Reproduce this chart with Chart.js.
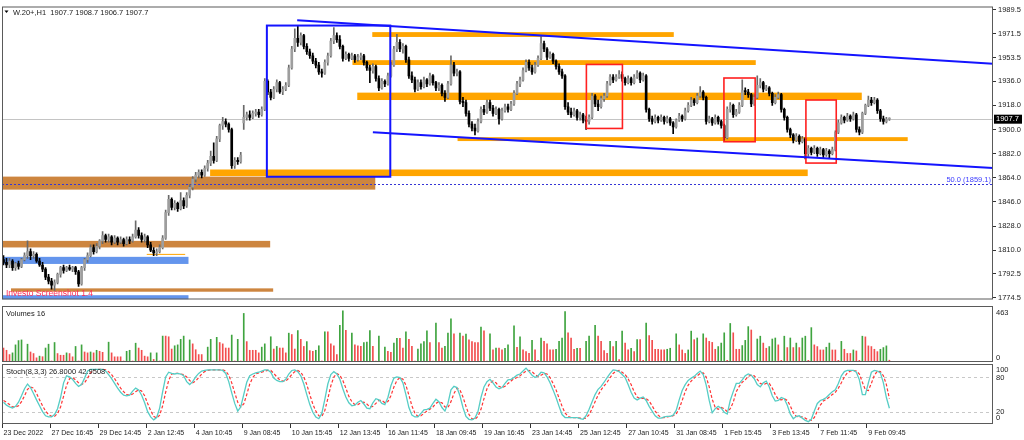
<!DOCTYPE html>
<html><head><meta charset="utf-8">
<script src="https://cdn.jsdelivr.net/npm/chart.js@4.4.1/dist/chart.umd.min.js"></script>
<style>
html,body{margin:0;padding:0;background:#fff;width:1024px;height:440px;overflow:hidden}
canvas{position:absolute;left:0}
#c1{top:0}#c2{top:305px}#c3{top:363px}
</style></head><body>
<canvas id="c1" width="1024" height="306"></canvas>
<canvas id="c2" width="1024" height="59"></canvas>
<canvas id="c3" width="1024" height="77"></canvas>
<script>
// ---------- DATA ----------
const symbolTitle = 'W.20+,H1  1907.7 1908.7 1906.7 1907.7';
const volumeTitle = 'Volumes 16';
const stochTitle = 'Stoch(8,3,3) 26.8000 42.9508';
const watermark = 'Investo Screenshot 1.4';
const fibText = '50.0 (1859.1)';
const tickLabels = ['23 Dec 2022','27 Dec 16:45','29 Dec 14:45','2 Jan 12:45','4 Jan 10:45','9 Jan 08:45','10 Jan 15:45','12 Jan 13:45','16 Jan 11:45','18 Jan 09:45','19 Jan 16:45','23 Jan 14:45','25 Jan 12:45','27 Jan 10:45','31 Jan 08:45','1 Feb 15:45','3 Feb 13:45','7 Feb 11:45','9 Feb 09:45'];
const barsPerLabel = 16;
const totalSlots = 330;
const priceTicks = [1989.5,1971.5,1953.5,1936.0,1918.0,1900.0,1882.0,1864.0,1846.0,1828.0,1810.0,1792.5,1774.5];
const priceMin = 1773.3, priceMax = 1991.7;
const lastPrice = 1907.7;
const fibLevel = 1859.1;
const volumeMax = 497;
const volumeAxisText = ['463','0'];
const stochLevels = [80, 20];
const stochAxisText = ['100','80','20','0'];

const opens = [
1803,1801,1799,1802,1797,1800,1798,1803,1806,1809,
1806,1807,1802,1799,1796,1790,1787,1784,1786,1792,
1797,1795,1797,1796,1797,1794,1785,1797,1803,1806,
1812,1809,1813,1817,1821,1818,1820,1816,1819,1816,
1818,1815,1818,1817,1820,1825,1821,1818,1820,1814,
1810,1808,1809,1812,1819,1838,1848,1842,1845,1841,
1847,1843,1851,1857,1863,1866,1868,1866,1871,1875,
1880,1877,1893,1903,1906,1904,1900,1873,1877,1876,
1905,1909,1911,1909,1912,1913,1911,1915,1936,1928,
1924,1930,1935,1928,1930,1933,1946,1960,1968,1965,
1970,1962,1958,1955,1951,1948,1943,1942,1950,1955,
1966,1970,1967,1962,1953,1956,1953,1955,1952,1954,
1955,1950,1946,1944,1947,1938,1931,1936,1934,1940,
1948,1960,1965,1960,1962,1952,1940,1937,1930,1935,
1932,1937,1934,1940,1935,1931,1933,1927,1924,1934,
1948,1942,1943,1921,1920,1912,1904,1901,1899,1906,
1915,1913,1920,1916,1912,1915,1908,1914,1917,1915,
1919,1927,1934,1937,1944,1950,1946,1943,1948,1953,
1964,1960,1954,1956,1951,1947,1943,1940,1917,1913,
1911,1914,1909,1911,1907,1906,1909,1925,1919,1917,
1923,1925,1934,1939,1937,1939,1941,1938,1935,1938,
1935,1939,1942,1937,1940,1915,1908,1906,1909,1907,
1909,1906,1908,1905,1902,1907,1910,1908,1914,1918,
1922,1920,1925,1928,1924,1906,1908,1905,1909,1906,
1903,1894,1915,1918,1911,1913,1918,1929,1928,1926,
1919,1924,1933,1935,1930,1931,1927,1920,1924,1926,
1915,1909,1900,1896,1892,1895,1891,1893,1882,1886,
1883,1886,1882,1885,1881,1884,1882,1885,1898,1905,
1909,1907,1910,1908,1911,1900,1898,1912,1918,1922,
1920,1922,1914,1908,1906,1907.7];
const highs = [
1806,1804,1804,1803,1801,1802,1804,1808,1817,1811,
1809,1808,1804,1801,1797,1792,1789,1788,1793,1798,
1799,1798,1799,1798,1798,1795,1798,1804,1808,1814,
1814,1815,1818,1824,1822,1822,1821,1821,1820,1820,
1819,1820,1820,1822,1832,1827,1823,1822,1821,1816,
1812,1811,1814,1821,1840,1851,1849,1847,1846,1853,
1849,1853,1859,1865,1868,1870,1870,1873,1877,1884,
1890,1895,1904,1909,1908,1905,1901,1879,1879,1883,
1918,1913,1914,1914,1915,1915,1917,1938,1937,1930,
1932,1937,1936,1932,1935,1948,1962,1975,1977,1972,
1971,1964,1960,1957,1953,1950,1945,1952,1957,1968,
1976,1972,1970,1963,1958,1957,1957,1956,1956,1957,
1956,1951,1948,1949,1948,1940,1938,1937,1942,1950,
1962,1971,1967,1964,1963,1954,1943,1939,1937,1937,
1939,1938,1942,1941,1936,1935,1934,1929,1936,1955,
1950,1945,1944,1924,1922,1914,1906,1904,1908,1917,
1918,1922,1922,1918,1917,1916,1916,1919,1919,1921,
1929,1936,1939,1946,1952,1952,1948,1950,1955,1970,
1966,1961,1958,1957,1952,1949,1945,1941,1920,1916,
1916,1915,1913,1912,1910,1911,1927,1926,1922,1925,
1927,1936,1941,1941,1941,1944,1943,1939,1940,1939,
1941,1944,1943,1942,1941,1916,1910,1911,1910,1911,
1910,1910,1909,1906,1908,1912,1911,1916,1920,1924,
1923,1927,1932,1929,1925,1910,1909,1911,1910,1907,
1904,1917,1920,1919,1915,1920,1937,1931,1930,1927,
1926,1940,1938,1936,1933,1932,1928,1926,1928,1927,
1916,1910,1901,1897,1897,1896,1895,1894,1888,1887,
1888,1887,1887,1886,1886,1885,1887,1899,1907,1911,
1910,1912,1911,1913,1912,1902,1913,1919,1925,1924,
1924,1923,1915,1910,1909,1908.7];
const lows = [
1799,1797,1797,1795,1795,1796,1797,1802,1804,1803,
1804,1801,1798,1794,1788,1785,1781,1780,1785,1790,
1793,1794,1795,1794,1792,1783,1784,1795,1801,1805,
1807,1808,1811,1815,1816,1816,1814,1815,1814,1815,
1813,1814,1815,1816,1819,1819,1816,1816,1812,1809,
1806,1806,1808,1811,1818,1836,1840,1840,1839,1840,
1841,1842,1849,1855,1861,1864,1864,1865,1869,1873,
1875,1876,1891,1900,1902,1898,1871,1871,1874,1875,
1900,1907,1907,1908,1910,1909,1910,1914,1926,1922,
1923,1928,1927,1926,1929,1932,1945,1958,1962,1963,
1960,1956,1953,1949,1946,1941,1939,1941,1948,1954,
1964,1965,1960,1951,1952,1951,1952,1950,1951,1952,
1948,1944,1935,1942,1936,1929,1930,1932,1933,1939,
1947,1958,1958,1957,1950,1938,1935,1928,1929,1930,
1931,1932,1933,1933,1929,1929,1925,1921,1923,1933,
1940,1940,1919,1917,1910,1902,1899,1896,1898,1905,
1911,1912,1914,1910,1911,1904,1907,1913,1913,1914,
1918,1926,1932,1936,1943,1944,1941,1942,1947,1952,
1958,1952,1953,1949,1945,1941,1938,1915,1911,1909,
1910,1907,1907,1905,1900,1904,1908,1917,1914,1916,
1921,1924,1933,1935,1936,1938,1936,1933,1934,1933,
1934,1938,1935,1936,1913,1906,1904,1905,1905,1906,
1904,1905,1903,1897,1901,1906,1906,1907,1913,1917,
1918,1919,1924,1922,1904,1905,1903,1904,1904,1901,
1892,1893,1913,1909,1910,1912,1917,1926,1924,1917,
1918,1923,1931,1928,1929,1925,1918,1919,1923,1913,
1907,1898,1894,1890,1891,1889,1890,1878,1880,1881,
1882,1880,1881,1879,1880,1879,1881,1884,1897,1904,
1905,1906,1906,1907,1898,1896,1897,1911,1917,1918,
1919,1912,1906,1904,1905,1906.7];
const closes = [
1801,1799,1802,1797,1800,1798,1803,1806,1809,1806,
1807,1802,1799,1796,1790,1787,1784,1786,1792,1797,
1795,1797,1796,1797,1794,1785,1797,1803,1806,1812,
1809,1813,1817,1821,1818,1820,1816,1819,1816,1818,
1815,1818,1817,1820,1825,1821,1818,1820,1814,1810,
1808,1809,1812,1819,1838,1848,1842,1845,1841,1847,
1843,1851,1857,1863,1866,1868,1866,1871,1875,1880,
1877,1893,1903,1906,1904,1900,1873,1877,1876,1881,
1909,1911,1909,1912,1913,1911,1915,1936,1928,1924,
1930,1935,1928,1930,1933,1946,1960,1968,1965,1970,
1962,1958,1955,1951,1948,1943,1942,1950,1955,1966,
1970,1967,1962,1953,1956,1953,1955,1952,1954,1955,
1950,1946,1944,1947,1938,1931,1936,1934,1940,1948,
1960,1965,1960,1962,1952,1940,1937,1930,1935,1932,
1937,1934,1940,1935,1931,1933,1927,1924,1934,1948,
1942,1943,1921,1920,1912,1904,1901,1899,1906,1915,
1913,1920,1916,1912,1915,1908,1914,1917,1915,1919,
1927,1934,1937,1944,1950,1946,1943,1948,1953,1964,
1960,1954,1956,1951,1947,1943,1940,1917,1913,1911,
1914,1909,1911,1907,1906,1909,1925,1919,1917,1923,
1925,1934,1939,1937,1939,1941,1938,1935,1938,1935,
1939,1942,1937,1940,1915,1908,1906,1909,1907,1909,
1906,1908,1905,1902,1907,1910,1908,1914,1918,1922,
1920,1925,1928,1924,1906,1908,1905,1909,1906,1903,
1894,1915,1918,1911,1913,1918,1929,1928,1926,1919,
1924,1933,1935,1930,1931,1927,1920,1924,1926,1915,
1909,1900,1896,1892,1895,1891,1893,1882,1886,1883,
1886,1882,1885,1881,1884,1882,1885,1898,1905,1909,
1907,1910,1908,1911,1900,1898,1912,1918,1922,1920,
1922,1914,1908,1906,1907.7,1907.7];
const volumes = [
124,104,66,81,152,190,196,9,158,89,
75,37,52,47,124,158,9,173,75,60,
60,81,75,46,138,9,152,89,81,89,
81,104,95,86,9,176,81,46,46,46,
9,95,104,9,167,124,104,52,46,81,
23,81,9,230,230,224,115,144,152,201,
230,9,196,161,109,66,66,9,132,201,
9,219,173,161,124,124,239,9,201,9,
431,181,104,104,104,81,132,161,9,224,
115,138,124,124,81,256,244,115,279,201,
138,181,101,95,104,144,9,268,268,161,
144,66,325,454,282,9,256,152,144,138,
173,176,279,138,9,230,9,132,95,86,
167,210,210,124,268,201,138,9,115,161,
181,276,173,9,345,173,124,138,256,383,
250,9,256,230,247,196,181,173,173,311,
276,9,250,109,124,124,107,122,152,5,
320,131,223,107,92,76,192,107,15,213,
183,162,107,107,113,183,213,448,259,213,
113,122,122,5,183,229,15,326,229,183,
101,76,183,137,183,21,274,168,107,122,
92,198,198,15,345,235,192,113,113,107,
107,113,122,5,250,152,107,76,107,274,
198,213,5,250,213,183,174,113,137,168,
259,15,342,259,113,113,146,192,314,284,
15,204,229,168,122,137,204,213,152,15,
229,128,213,128,168,128,213,229,15,305,
152,137,107,107,131,168,107,107,15,183,
113,76,76,107,98,15,229,223,143,137,
113,92,113,128,143,16];
const stochMain = [
37,32,29,27,30,37,48,60,68,62,
52,41,31,21,14,12,12,16,26,45,
70,82,80,76,69,64,67,78,90,93,
93,93,93,93,90,84,77,69,61,54,
49,48,49,56,61,58,49,36,21,12,
7,11,27,55,80,88,86,85,86,85,
82,72,67,72,80,86,90,91,92,92,
92,92,92,91,86,72,53,35,22,29,
50,71,82,85,87,88,90,92,92,88,
78,74,72,72,76,85,91,92,89,82,
68,50,33,20,12,9,18,42,68,84,
89,85,76,60,46,36,31,32,37,40,
34,27,26,36,43,41,35,33,45,65,
78,80,79,70,50,28,15,12,12,18,
24,25,27,35,42,38,28,22,35,58,
64,62,48,28,13,8,7,10,21,45,
63,72,76,70,63,60,62,69,75,76,
79,83,85,90,95,89,83,79,82,88,
87,80,70,58,45,30,16,11,11,11,
11,11,9,8,14,25,38,50,59,64,
71,79,86,92,91,89,84,79,67,54,
44,41,44,46,40,30,22,14,10,10,
12,13,13,15,23,41,57,67,74,78,
81,86,90,84,66,40,19,26,30,27,
20,17,40,55,69,69,75,82,85,83,
77,67,63,70,73,63,48,39,40,45,
43,32,17,9,13,14,10,6,4,8,
22,35,40,42,45,50,55,58,69,82,
89,91,91,91,88,75,50,50,70,88,
91,90,87,70,45,26.8];
const stochSignal = [
40,37,33,29,29,31,38,48,59,63,
61,52,41,31,22,16,13,13,18,29,
47,66,77,79,75,70,67,70,78,87,
92,93,93,93,92,89,84,77,69,61,
55,50,49,51,55,58,56,48,35,23,
13,10,15,31,54,74,85,86,86,85,
84,80,74,70,73,79,85,89,91,92,
92,92,92,92,90,83,70,53,37,29,
34,50,68,79,85,87,88,90,91,91,
86,80,75,73,73,78,84,89,91,88,
80,67,50,34,22,14,13,23,43,65,
80,86,83,74,61,47,38,33,33,36,
37,34,29,30,35,40,40,36,38,48,
63,74,79,76,66,49,31,18,13,14,
18,22,25,29,35,38,36,29,28,38,
52,61,58,46,30,16,9,8,13,25,
43,60,70,73,70,64,62,64,69,73,
77,79,82,86,90,91,89,84,81,83,
86,85,79,69,58,44,30,19,13,11,
11,11,10,9,10,16,26,38,49,58,
65,71,79,86,90,91,88,84,77,67,
55,46,43,44,43,39,31,22,15,11,
11,12,13,14,17,26,40,55,66,73,
78,82,86,87,80,63,42,28,25,28,
26,21,26,37,55,64,71,75,81,83,
82,76,69,67,69,69,61,50,42,41,
43,40,31,19,13,12,12,10,7,6,
11,22,32,39,42,46,50,54,61,70,
80,87,90,91,90,85,71,58,57,69,
83,90,89,82,67,42.96];

// chart objects in data coordinates: [startBar, endBar, lowPrice, highPrice]
const brownZones = [[-0.5,123.8,1855.2,1864.9],[-0.5,88.8,1812.1,1817.0],[2.5,89.8,1779.1,1781.6]];
const blueZones = [[-0.5,61.6,1799.8,1805.1],[-0.5,61.6,1773.3,1776.5]];
const orangeZones = [[122.8,223.2,1969.0,1972.6],[116.2,250.5,1948.1,1951.7],[117.8,285.8,1922.0,1927.5],[151.2,301.1,1891.4,1894.3],[68.8,267.8,1865.3,1870.2],[47.7,60.5,1806.6,1807.3]];
const blueBoxes = [[87.7,128.8,1864.8,1977.5]];
const redBoxes = [[194.1,206.1,1900.8,1948.5],[239.9,250.3,1890.9,1938.4],[267.2,277.3,1875.0,1922.0]];
const trendLines = [[[97.8,1981.5],[329.5,1949.0]],[[123.0,1897.9],[329.5,1871.4]]];

// ---------- BUILD ----------
const FONT = "'Liberation Sans', Arial, sans-serif";
const slotLabels = Array.from({length: totalSlots}, (_, i) => (i % barsPerLabel === 0 && tickLabels[i / barsPerLabel]) || '');
const isUp = closes.map((c, i) => c >= opens[i]);
const wickData = highs.map((h, i) => [lows[i], h]);
const bodyData = opens.map((o, i) => [Math.min(o, closes[i]), Math.max(o, closes[i])]);
const volColors = volumes.map((v, i) => (i > 0 && v > volumes[i - 1]) ? '#3fa43f' : '#f24e4e');

const panelFrame = {
  id: 'panelFrame',
  afterDraw(chart) {
    const {ctx, chartArea: a} = chart;
    ctx.save();
    ctx.strokeStyle = '#5a5a5a'; ctx.lineWidth = 1;
    ctx.strokeRect(a.left + 0.5, a.top + 0.5, a.right - a.left - 1, a.bottom - a.top - 1);
    ctx.restore();
  }
};

function clipArea(ctx, a) { ctx.beginPath(); ctx.rect(a.left, a.top, a.right - a.left, a.bottom - a.top); ctx.clip(); }

const mainOverlay = {
  id: 'mainOverlay',
  beforeDatasetsDraw(chart) {
    const {ctx, chartArea: a, scales: {x, y}} = chart;
    ctx.save(); clipArea(ctx, a);
    const fillZone = (z, color) => {
      const x0 = x.getPixelForValue(z[0]), x1 = x.getPixelForValue(z[1]);
      const y0 = y.getPixelForValue(z[3]), y1 = y.getPixelForValue(z[2]);
      ctx.fillStyle = color; ctx.fillRect(x0, y0, x1 - x0, Math.max(1, y1 - y0));
    };
    brownZones.forEach(z => fillZone(z, '#cd853f'));
    blueZones.forEach(z => fillZone(z, '#6495ed'));
    orangeZones.forEach(z => fillZone(z, '#ffa500'));
    const yc = Math.round(y.getPixelForValue(lastPrice)) + 0.5;
    ctx.strokeStyle = '#c4c4c4'; ctx.lineWidth = 1;
    ctx.beginPath(); ctx.moveTo(a.left, yc); ctx.lineTo(a.right, yc); ctx.stroke();
    const yf = Math.round(y.getPixelForValue(fibLevel)) + 0.5;
    ctx.setLineDash([2, 2]); ctx.strokeStyle = '#3434d6';
    ctx.beginPath(); ctx.moveTo(a.left, yf); ctx.lineTo(a.right, yf); ctx.stroke();
    ctx.setLineDash([]);
    ctx.restore();
  },
  afterDatasetsDraw(chart) {
    const {ctx, chartArea: a, scales: {x, y}} = chart;
    ctx.save(); clipArea(ctx, a);
    const box = (b, color, w) => {
      const x0 = x.getPixelForValue(b[0]), x1 = x.getPixelForValue(b[1]);
      const y0 = y.getPixelForValue(b[3]), y1 = y.getPixelForValue(b[2]);
      ctx.strokeStyle = color; ctx.lineWidth = w; ctx.strokeRect(x0, y0, x1 - x0, y1 - y0);
    };
    blueBoxes.forEach(b => box(b, '#1414ff', 2));
    redBoxes.forEach(b => box(b, '#ff2020', 1.6));
    ctx.strokeStyle = '#1414ff'; ctx.lineWidth = 2;
    trendLines.forEach(t => {
      ctx.beginPath();
      ctx.moveTo(x.getPixelForValue(t[0][0]), y.getPixelForValue(t[0][1]));
      ctx.lineTo(x.getPixelForValue(t[1][0]), y.getPixelForValue(t[1][1]));
      ctx.stroke();
    });
    ctx.font = '7.5px ' + FONT; ctx.textBaseline = 'middle';
    ctx.fillStyle = '#3a3aff'; ctx.textAlign = 'right';
    ctx.fillText(fibText, a.right - 2, y.getPixelForValue(fibLevel) - 4);
    ctx.font = '8.5px ' + FONT; ctx.textAlign = 'left'; ctx.fillStyle = '#ff2a55';
    ctx.fillText(watermark, a.left + 4, a.bottom - 6);
    ctx.restore();
  },
  afterDraw(chart) {
    const {ctx, chartArea: a, scales: {y}} = chart;
    ctx.save();
    // header
    ctx.fillStyle = '#000';
    ctx.beginPath(); ctx.moveTo(a.left + 2.5, a.top + 4); ctx.lineTo(a.left + 6.5, a.top + 4); ctx.lineTo(a.left + 4.5, a.top + 6.5); ctx.closePath(); ctx.fill();
    ctx.font = '7.5px ' + FONT; ctx.textBaseline = 'middle'; ctx.textAlign = 'left'; ctx.fillStyle = '#222';
    ctx.fillText(symbolTitle, a.left + 11, a.top + 6);
    // current price tag on axis
    const yc = y.getPixelForValue(lastPrice);
    ctx.fillStyle = '#000'; ctx.fillRect(a.right + 1, yc - 4.5, 28, 9);
    ctx.fillStyle = '#fff'; ctx.fillText(lastPrice.toFixed(1), a.right + 3, yc);
    ctx.restore();
  }
};

function sideLabels(texts, positions) {
  return {
    id: 'sideLabels',
    afterDraw(chart) {
      const {ctx, chartArea: a} = chart;
      ctx.save(); ctx.font = '7.5px ' + FONT; ctx.fillStyle = '#222';
      ctx.textBaseline = 'middle'; ctx.textAlign = 'left';
      const ys = positions(chart);
      texts.forEach((t, i) => ctx.fillText(t, a.right + 3, ys[i]));
      ctx.restore();
    }
  };
}

function titlePlugin(text) {
  return {
    id: 'title_' + text.length,
    afterDraw(chart) {
      const {ctx, chartArea: a} = chart;
      ctx.save(); ctx.font = '7.5px ' + FONT; ctx.fillStyle = '#222';
      ctx.textBaseline = 'middle'; ctx.textAlign = 'left';
      ctx.fillText(text, a.left + 4, a.top + 8);
      ctx.restore();
    }
  };
}

const noPlugins = {legend: {display: false}, tooltip: {enabled: false}};
const rightAxisWidth = s => { s.width = 31; };

// ---------- MAIN PRICE CHART ----------
new Chart(document.getElementById('c1'), {
  type: 'bar',
  data: {
    labels: slotLabels,
    datasets: [
      {data: wickData, backgroundColor: isUp.map(u => u ? '#6a6a6a' : '#000'), barThickness: 1, grouped: false, order: 2},
      {data: bodyData, backgroundColor: isUp.map(u => u ? '#9e9e9e' : '#000'), barThickness: 2, minBarLength: 1, grouped: false, order: 1}
    ]
  },
  options: {
    responsive: false, animation: false,
    layout: {padding: {left: 2, top: 2, bottom: 2, right: 0}},
    plugins: noPlugins,
    scales: {
      x: {display: false, offset: true},
      y: {
        position: 'right', min: priceMin, max: priceMax,
        afterBuildTicks: s => { s.ticks = priceTicks.map(v => ({value: v})); },
        afterFit: rightAxisWidth,
        grid: {drawOnChartArea: false, tickLength: 3, color: '#333'},
        border: {display: false},
        ticks: {font: {size: 7.5, family: FONT}, color: '#222', padding: 2, autoSkip: false, callback: v => Number(v).toFixed(1)}
      }
    }
  },
  plugins: [mainOverlay, panelFrame]
});

// ---------- VOLUME CHART ----------
new Chart(document.getElementById('c2'), {
  type: 'bar',
  data: {labels: slotLabels, datasets: [{data: volumes, backgroundColor: volColors, barThickness: 1}]},
  options: {
    responsive: false, animation: false,
    layout: {padding: {left: 2, top: 1, bottom: 2, right: 0}},
    plugins: noPlugins,
    scales: {
      x: {display: false, offset: true},
      y: {position: 'right', min: 0, max: volumeMax, afterFit: rightAxisWidth, ticks: {display: false}, grid: {display: false}, border: {display: false}}
    }
  },
  plugins: [panelFrame, titlePlugin(volumeTitle), sideLabels(volumeAxisText, c => [c.chartArea.top + 6.5, c.chartArea.bottom - 4.5])]
});

// ---------- STOCHASTIC CHART ----------
const stochLevelPlugin = {
  id: 'stochLevels',
  beforeDatasetsDraw(chart) {
    const {ctx, chartArea: a, scales: {y}} = chart;
    ctx.save(); ctx.strokeStyle = '#c8c8c8'; ctx.lineWidth = 1; ctx.setLineDash([3, 3]);
    stochLevels.forEach(l => {
      const yy = Math.round(y.getPixelForValue(l)) + 0.5;
      ctx.beginPath(); ctx.moveTo(a.left, yy); ctx.lineTo(a.right, yy); ctx.stroke();
    });
    ctx.restore();
  }
};
new Chart(document.getElementById('c3'), {
  type: 'line',
  data: {
    labels: slotLabels,
    datasets: [
      {data: stochMain, borderColor: '#56cdc5', borderWidth: 1.3, pointRadius: 0, tension: 0, order: 1},
      {data: stochSignal, borderColor: '#ff3434', borderWidth: 1.2, borderDash: [3, 2], pointRadius: 0, tension: 0, order: 2}
    ]
  },
  options: {
    responsive: false, animation: false,
    layout: {padding: {left: 2, top: 1, bottom: 0, right: 0}},
    plugins: noPlugins,
    scales: {
      x: {
        offset: true,
        afterFit: s => { s.height = 16; },
        grid: {offset: true, drawOnChartArea: false, tickLength: 4, color: c => (c.tick && c.tick.label) ? '#333' : 'rgba(0,0,0,0)'},
        border: {display: false},
        ticks: {autoSkip: false, maxRotation: 0, minRotation: 0, align: 'start', padding: 1, font: {size: 7, family: FONT}, color: '#222'}
      },
      y: {position: 'right', min: 0, max: 102, afterFit: rightAxisWidth, ticks: {display: false}, grid: {display: false}, border: {display: false}}
    }
  },
  plugins: [stochLevelPlugin, panelFrame, titlePlugin(stochTitle),
    sideLabels(stochAxisText, c => { const y = c.scales.y, a = c.chartArea; return [a.top + 5.5, y.getPixelForValue(80) + 1, y.getPixelForValue(20), a.bottom - 6]; })]
});
</script>
</body></html>
